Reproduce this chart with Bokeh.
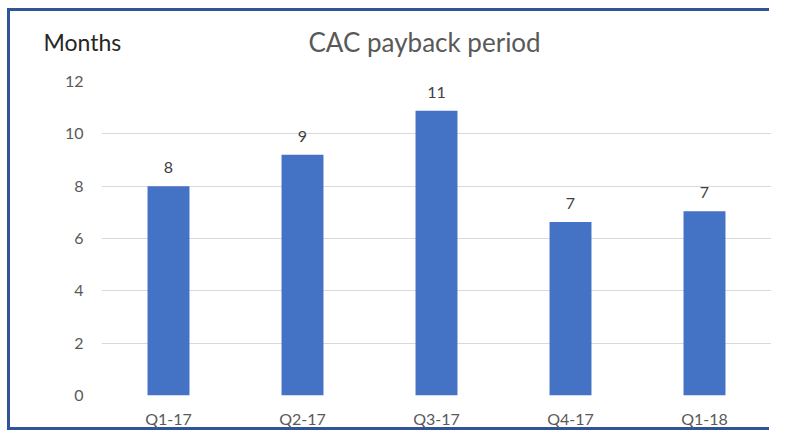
from bokeh.plotting import figure
from bokeh.models import Title, FixedTicker, ColumnDataSource
from bokeh.core.properties import value
from bokeh.embed import file_html
from bokeh.resources import INLINE

quarters = ["Q1-17", "Q2-17", "Q3-17", "Q4-17", "Q1-18"]
months = [8.0, 9.2, 10.88, 6.63, 7.04]
labels = [str(int(round(v))) for v in months]
y_ticks = [0, 2, 4, 6, 8, 10, 12]

FONT = "Lato"
FRAME = "#2F5597"
src = ColumnDataSource(dict(q=quarters, m=months, lab=labels))

bg = ", ".join([
    f"linear-gradient({FRAME},{FRAME}) 7px 8px / 3px 422px no-repeat",
    f"linear-gradient({FRAME},{FRAME}) 7px 8px / 762px 3px no-repeat",
    f"linear-gradient({FRAME},{FRAME}) 7px 427px / 762px 3px no-repeat",
])

p = figure(x_range=quarters, y_range=(0, 12), width=771, height=430,
           output_backend="svg", toolbar_location=None,
           min_border_left=101, min_border_right=0, min_border_top=81, min_border_bottom=34,
           styles={"background": bg})
p.outline_line_color = None
p.background_fill_color = None
p.border_fill_color = None

p.title = Title(text="CAC payback period", align="left", offset=207, standoff=-115,
                text_font=FONT, text_font_size="26px", text_color="#595959",
                text_font_style="normal")
p.add_layout(Title(text="Months", align="left", offset=-58, standoff=51,
                   text_font=FONT, text_font_size="23px", text_color="#262626",
                   text_font_style="normal"), "above")

p.vbar(x="q", top="m", width=0.313, source=src, fill_color="#4472C4", line_color=None)
p.text(x="q", y="m", text="lab", source=src, text_align="center", text_baseline="bottom",
       y_offset=-13, text_font=value(FONT), text_font_size="16px", text_color="#404040")

p.xgrid.grid_line_color = None
p.ygrid.grid_line_color = "#D9D9D9"
p.ygrid.grid_line_width = 1

p.yaxis.ticker = FixedTicker(ticks=y_ticks)
for ax in (p.xaxis, p.yaxis):
    ax.axis_line_color = None
    ax.major_tick_line_color = None
    ax.minor_tick_line_color = None
    ax.major_tick_out = 0
    ax.minor_tick_out = 0
    ax.major_label_text_font = FONT
    ax.major_label_text_font_size = "16px"
    ax.major_label_text_color = "#595959"
p.yaxis.major_label_standoff = 18
p.xaxis.major_label_standoff = 13

open("out.html", "w").write(file_html(p, INLINE))
